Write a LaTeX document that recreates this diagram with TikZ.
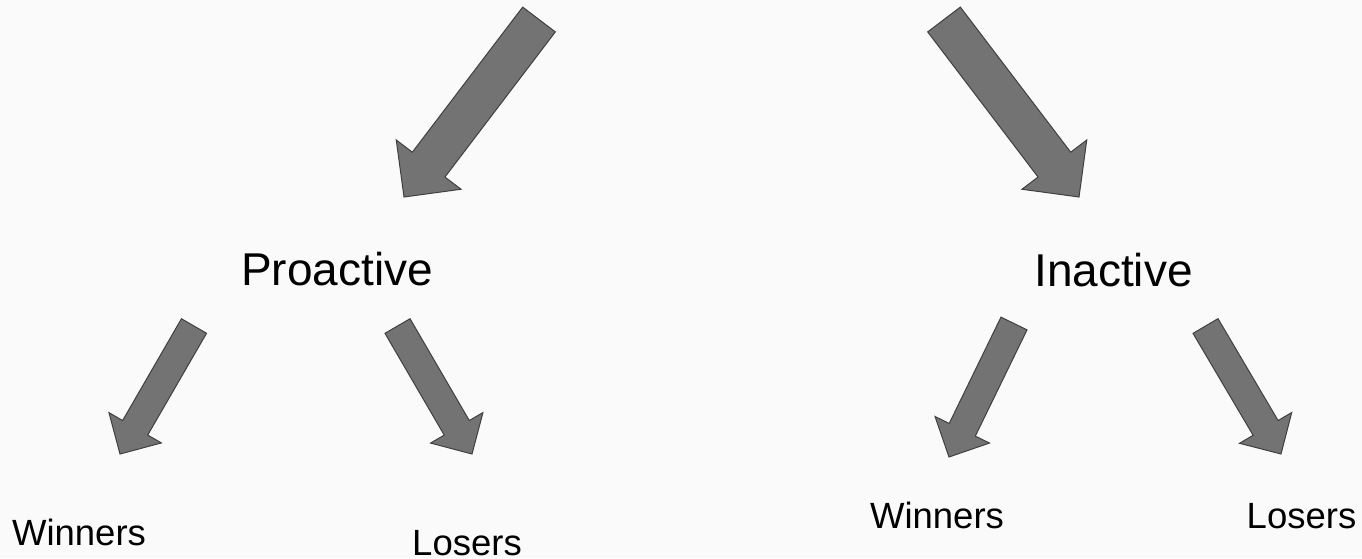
\documentclass[tikz,border=0pt]{standalone}
\usepackage{fontspec}
\setmainfont{Liberation Sans}
\usetikzlibrary{calc}
\definecolor{arrowgray}{RGB}{115,115,115}
\definecolor{edgegray}{RGB}{64,64,64}
\definecolor{paper}{RGB}{250,250,250}
\tikzset{
	arrowbody/.style={fill=arrowgray, draw=edgegray, line width=1pt, line join=miter},
	bigtxt/.style={font=\fontsize{46}{52}\selectfont, anchor=base, inner sep=0pt},
	smalltxt/.style={font=\fontsize{36.5}{42}\selectfont, anchor=base, inner sep=0pt}
}
% block arrow: tail, tip, half shaft width, half head width
\newcommand\blockarrow[4]{%
	\coordinate (h) at ($(#2)!#4!(#1)$);
	\draw[arrowbody] ($(#1)!#3!90:(#2)$) -- ($(h)!#3!90:(#2)$) -- ($(h)!#4!90:(#2)$)
	-- (#2) -- ($(h)!#4!-90:(#2)$) -- ($(h)!#3!-90:(#2)$) -- ($(#1)!#3!-90:(#2)$) -- cycle;}
\begin{document}
\begin{tikzpicture}[x=1pt, y=-1pt, line join=round]
	\fill[paper] (0,0) rectangle (1362,558);
	\useasboundingbox (0,0) rectangle (1362,558);
	\node[bigtxt] (pro) at (337,285) {Proactive};
	\node[bigtxt] (ina) at (1113.5,286) {Inactive};
	\node[smalltxt] (prowin) at (79,545) {Winners};
	\node[smalltxt] (prolos) at (467,555) {Losers};
	\node[smalltxt] (inawin) at (937,528) {Winners};
	\node[smalltxt] (inalos) at (1301.5,528) {Losers};
	\path
	(539,19.5) coordinate (T1) (404,197) coordinate (P1)
	(944,19.5) coordinate (T2) (1079,197) coordinate (P2)
	(194,326) coordinate (T3) (120,454) coordinate (P3)
	(397.5,326) coordinate (T4) (472,454) coordinate (P4)
	(1014,323.5) coordinate (T5) (949,457) coordinate (P5)
	(1205.5,326) coordinate (T6) (1281,454) coordinate (P6);
	\blockarrow{T1}{P1}{20.5pt}{40.7pt}
	\blockarrow{T2}{P2}{20.5pt}{40.7pt}
	\foreach \i in {3,...,6}
	{\blockarrow{T\i}{P\i}{14.5pt}{30.3pt}}
\end{tikzpicture}
\end{document}
